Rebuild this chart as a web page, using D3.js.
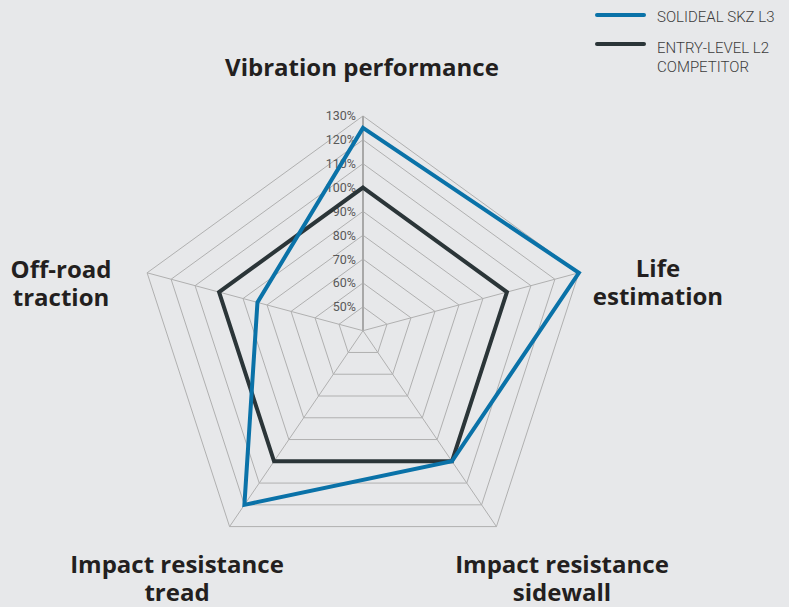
<!DOCTYPE html>
<html><head><meta charset="utf-8">
<script src="https://cdn.jsdelivr.net/npm/d3@7"></script>
<style>
html,body{margin:0;padding:0;background:#e7e8ea;}
svg{display:block;}
</style></head>
<body>
<svg id="chart" width="789" height="607"></svg>
<script>
const axes = ["Vibration performance", "Life estimation", "Impact resistance sidewall", "Impact resistance tread", "Off-road traction"];
const axisLabelLines = [["Vibration performance"], ["Life", "estimation"], ["Impact resistance", "sidewall"], ["Impact resistance", "tread"], ["Off-road", "traction"]];
const seriesNames = ["SOLIDEAL SKZ L3", "ENTRY-LEVEL L2 COMPETITOR"];
const skzValues = [125, 130, 100, 120, 84];
const competitorValues = [100, 100, 100, 100, 100];
const levels = [50, 60, 70, 80, 90, 100, 110, 120, 130];
const tickLabels = ["50%", "60%", "70%", "80%", "90%", "100%", "110%", "120%", "130%"];

const svg = d3.select("#chart");
const cx = 363, cy = 330.7, R = 227, skew = 0.054;
const r = d3.scaleLinear().domain([40, 130]).range([0, R]);
const angle = d3.scalePoint().domain(d3.range(axes.length)).range([0, 2 * Math.PI * (axes.length - 1) / axes.length]);
function pt(i, v) {
  const a = angle(i), rr = r(v);
  return [cx + rr * Math.sin(a), cy + rr * (-Math.cos(a) + skew)];
}
const line = d3.line().curve(d3.curveLinearClosed);

const grid = svg.append("g");
levels.forEach(l => {
  grid.append("path").attr("d", line(axes.map((_, i) => pt(i, l))))
    .attr("fill", "none").attr("stroke", "#b0b0b0").attr("stroke-width", 1);
});
axes.forEach((_, i) => {
  const p = pt(i, 130);
  grid.append("line").attr("x1", cx).attr("y1", cy).attr("x2", p[0]).attr("y2", p[1])
    .attr("stroke", i === 0 ? "#a8a8a8" : "#b0b0b0").attr("stroke-width", i === 0 ? 2 : 1);
});

// tick labels
svg.append("g").selectAll("text").data(levels).join("text")
  .attr("x", cx - 7).attr("y", d => pt(0, d)[1] + 4.5)
  .attr("text-anchor", "end").attr("font-family", "Roboto").attr("font-weight", 400)
  .attr("font-size", 12.5).attr("fill", "#595959")
  .text((d, i) => tickLabels[i]);

// series
const series = [
  {name: seriesNames[1], values: competitorValues, color: "#2b3538"},
  {name: seriesNames[0], values: skzValues, color: "#0a72a8"}
];
svg.append("g").selectAll("path").data(series).join("path")
  .attr("d", s => line(s.values.map((v, i) => pt(i, v))))
  .attr("fill", "none").attr("stroke", s => s.color).attr("stroke-width", 4)
  .attr("stroke-linejoin", "miter");

// axis labels
const labelPos = [[362, 76], [658, 277], [562, 573], [177, 573], [61, 278]];
const lab = svg.append("g").attr("font-family", "'Open Sans'").attr("font-weight", 700)
  .attr("font-size", 24).attr("fill", "#231f20").attr("text-anchor", "middle");
axisLabelLines.forEach((lines, i) => {
  const t = lab.append("text").attr("x", labelPos[i][0]).attr("y", labelPos[i][1]);
  lines.forEach((s, j) => {
    t.append("tspan").attr("x", labelPos[i][0]).attr("dy", j === 0 ? 0 : 28).text(s);
  });
});

// legend
const leg = svg.append("g").attr("font-family", "Roboto").attr("font-weight", 300)
  .attr("font-size", 15).attr("fill", "#3c3c3c");
leg.append("line").attr("x1", 597).attr("x2", 644).attr("y1", 15).attr("y2", 15)
  .attr("stroke", "#0a72a8").attr("stroke-width", 4).attr("stroke-linecap", "round");
leg.append("text").attr("x", 657).attr("y", 22).text(seriesNames[0]);
leg.append("line").attr("x1", 597).attr("x2", 644).attr("y1", 44).attr("y2", 44)
  .attr("stroke", "#2b3538").attr("stroke-width", 4).attr("stroke-linecap", "round");
const lt = leg.append("text").attr("x", 657).attr("y", 53);
lt.append("tspan").attr("x", 657).text("ENTRY-LEVEL L2");
lt.append("tspan").attr("x", 657).attr("dy", 19).text("COMPETITOR");
</script>
</body></html>
